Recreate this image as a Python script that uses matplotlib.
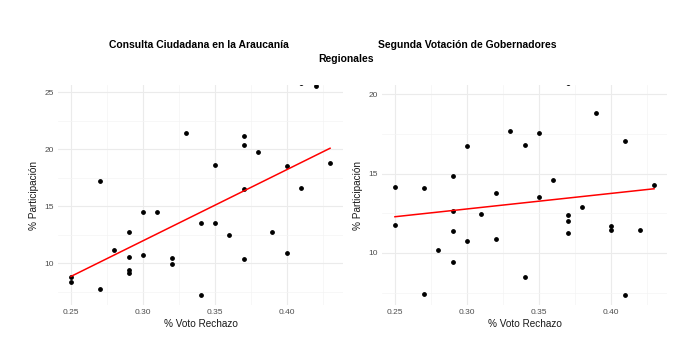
import matplotlib
matplotlib.use("Agg")
import matplotlib.pyplot as plt
import numpy as np

plt.rcParams['font.family'] = ['Liberation Sans', 'DejaVu Sans']

# Consulta Ciudadana en la Araucania
rechazo_consulta = [0.42, 0.41, 0.33, 0.37, 0.37, 0.38, 0.40, 0.35, 0.43, 0.27, 0.37,
                    0.41, 0.30, 0.31, 0.34, 0.35, 0.36, 0.39, 0.29, 0.28, 0.29, 0.30,
                    0.32, 0.32, 0.40, 0.37, 0.29, 0.29, 0.25, 0.25, 0.27, 0.34]
particip_consulta = [25.56, 25.85, 21.46, 21.2, 20.41, 19.74, 18.5, 18.6, 18.8, 17.19, 16.49,
                     16.58, 14.53, 14.53, 13.51, 13.54, 12.51, 12.78, 12.75, 11.14, 10.56, 10.70,
                     10.47, 9.97, 10.88, 10.35, 9.41, 9.18, 8.80, 8.36, 7.72, 7.19]

# Segunda votacion de gobernadores regionales
rechazo_gore = [0.37, 0.39, 0.33, 0.35, 0.30, 0.34, 0.41, 0.29, 0.36, 0.25, 0.27,
                0.43, 0.32, 0.35, 0.38, 0.29, 0.31, 0.37, 0.37, 0.25, 0.40, 0.40,
                0.42, 0.29, 0.37, 0.30, 0.32, 0.28, 0.29, 0.34, 0.27, 0.41]
particip_gore = [20.74, 18.84, 17.67, 17.54, 16.74, 16.83, 17.04, 14.83, 14.60, 14.16, 14.12,
                 14.26, 13.80, 13.51, 12.90, 12.65, 12.48, 12.42, 12.00, 11.76, 11.68, 11.45,
                 11.47, 11.39, 11.28, 10.78, 10.90, 10.17, 9.43, 8.51, 7.44, 7.35]

x_ticks = [0.25, 0.30, 0.35, 0.40]
x_minor = [0.275, 0.325, 0.375, 0.425]


def panel(ax, x, y, ylim, yticks, yminor):
    x = np.array(x)
    y = np.array(y)
    ax.scatter(x, y, s=6, color='black', zorder=3, clip_on=True)
    # linear fit like geom_smooth(method = "lm", se = FALSE)
    m, b = np.polyfit(x, y, 1)
    xs = np.array([x.min(), x.max()])
    ax.plot(xs, m * xs + b, color='red', lw=1.1, zorder=4)

    ax.set_xlim(0.241, 0.439)
    ax.set_ylim(*ylim)
    ax.set_xticks(x_ticks)
    ax.set_xticklabels(['%.2f' % t for t in x_ticks])
    ax.set_xticks(x_minor, minor=True)
    ax.set_yticks(yticks)
    ax.set_yticks(yminor, minor=True)
    ax.grid(True, which='major', color='#EBEBEB', lw=0.8)
    ax.grid(True, which='minor', color='#F4F4F4', lw=0.5)
    ax.set_axisbelow(True)
    for s in ax.spines.values():
        s.set_visible(False)
    ax.tick_params(which='both', length=0, labelsize=6, labelcolor='#4D4D4D', pad=3)
    ax.set_xlabel('% Voto Rechazo', fontsize=7.2, color='#1A1A1A', labelpad=2)
    ax.set_ylabel('% Participación', fontsize=7.2, color='#1A1A1A', labelpad=4)


fig = plt.figure(figsize=(6.76, 3.63), dpi=100)
ax1 = fig.add_axes([58 / 676, 58 / 363, 285 / 676, 220 / 363])
ax2 = fig.add_axes([382 / 676, 58 / 363, 285 / 676, 220 / 363])

panel(ax1, rechazo_consulta, particip_consulta, (6.34, 25.64), [10, 15, 20, 25], [7.5, 12.5, 17.5, 22.5])
panel(ax2, rechazo_gore, particip_gore, (6.72, 20.59), [10, 15, 20], [7.5, 12.5, 17.5])

fig.text(109 / 676, 1 - 45 / 363, 'Consulta Ciudadana en la Araucanía',
         fontsize=7.5, fontweight='bold', ha='left', va='center')
fig.text(378 / 676, 1 - 45 / 363, 'Segunda Votación de Gobernadores',
         fontsize=7.5, fontweight='bold', ha='left', va='center')
fig.text(318 / 676, 1 - 59 / 363, 'Regionales',
         fontsize=7.5, fontweight='bold', ha='left', va='center')

fig.savefig('out.png', dpi=100)
